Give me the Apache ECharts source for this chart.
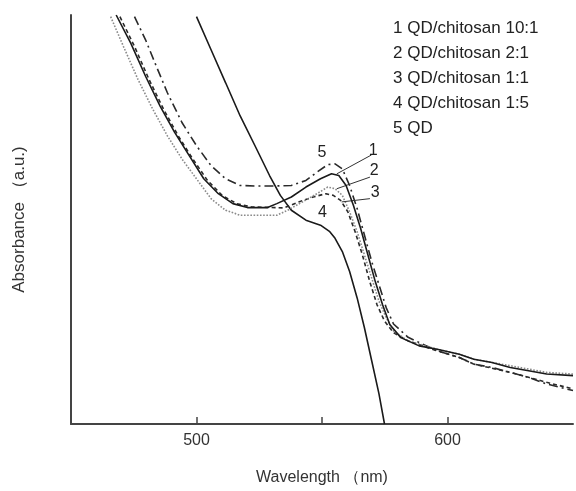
<!DOCTYPE html>
<html><head><meta charset="utf-8">
<script src="https://cdn.jsdelivr.net/npm/echarts@6/dist/echarts.min.js"></script>
<style>html,body{margin:0;padding:0;background:#fff}#c{width:576px;height:491px}</style>
</head><body><div id="c"></div>
<script>
// Wavelength (nm) / absorbance (a.u., arbitrary) pairs
const seriesNames = ['1 QD/chitosan 10:1','2 QD/chitosan 2:1','3 QD/chitosan 1:1','4 QD/chitosan 1:5','5 QD'];
const curve1 = [[468.0,412],[473.8,383.7],[479.7,350.3],[485.5,320.3],[491.3,293.7],[497.1,270.3],[502.9,247],[508.7,232],[514.5,222],[520.3,218],[528.3,218],[532.0,222],[537.8,228.7],[543.6,238.7],[549.4,247],[553.8,252],[556.7,250.3],[559.6,240.3],[562.5,220.3],[565.4,197],[568.3,170.3],[571.2,143.7],[574.1,120.3],[577.0,100.3],[581.4,87],[588.7,78.7],[595.9,75.3],[604.7,70.3],[610.5,65.3],[617.7,62],[625.0,57],[632.3,53.7],[639.5,50.3],[650,48.7]];
const curve2 = [[465.8,410.3],[470.9,380.3],[476.7,347],[482.6,317],[488.4,290.3],[494.2,267],[500,247],[505.8,227],[511.6,215.3],[517.4,210.3],[532.0,210.3],[536.3,215.3],[542.2,223.7],[548.0,232],[552.3,238.7],[555.2,237],[558.1,230.3],[561.0,213.7],[564.0,193.7],[566.9,170.3],[569.8,147],[572.7,123.7],[575.6,107],[578.5,93.7],[584.3,83.7],[595.9,75.3],[604.7,70.3],[610.5,65.3],[625,58.7],[632.3,55.3],[639.5,52],[650,50.3]];
const curve3 = [[469.5,410.3],[475.3,380.3],[481.1,347],[486.9,317],[492.7,290.3],[498.5,267],[504.4,245.3],[510.2,230.3],[516.0,222],[521.8,218.7],[534.9,217.7],[540.7,223.7],[546.5,228.7],[551.6,232],[554.5,230.3],[557.4,225.3],[560.3,213.7],[563.2,193.7],[566.1,170.3],[569.0,143.7],[571.9,120.3],[574.9,103.7],[578.5,92],[584.3,83.7],[595.9,73.7],[604.7,67],[610.5,60.3],[625,52],[632.3,47],[639.5,42],[650,35.3]];
const curve4 = [[500,410.3],[505.8,377],[511.6,343.7],[517.4,310.3],[523.3,280.3],[529.1,250.3],[533.4,230.3],[537.8,215.3],[543.6,205.3],[549.4,200.3],[553.1,193.7],[555.2,187],[558.1,173.7],[561.0,153.7],[564.0,127],[566.9,97],[569.8,63.7],[572.7,30.3],[574.9,0]];
const curve5 = [[475.3,410.3],[479.7,387],[484.0,360.3],[488.4,333.7],[494.2,303.7],[500,280.3],[505.8,260.3],[511.6,247],[517.4,240.3],[523.3,239.7],[530.5,239.7],[537.8,240.3],[543.6,245.3],[548.0,253.7],[552.3,261.3],[555.2,262],[558.1,257],[561.0,240.3],[564.0,217],[566.9,190.3],[569.8,163.7],[572.7,140.3],[575.6,117],[578.5,100.7],[584.3,87.3],[595.9,73.7],[604.7,67],[610.5,60.3],[617.7,57],[625,52],[632.3,47],[639.5,40.3],[650,33.7]];
const xTickLabels = [500, 600];
const xTicks = [500, 550, 600];
// curve number labels [x, y] and leader lines [[x1,y1],[x2,y2]]
const numLabels = {1:[570.4,275], 2:[570.8,255], 3:[571.2,233], 4:[550.2,213], 5:[550,273]};
const leaders = {1:[[555.9,252],[569.7,271]], 2:[[555.9,237],[569.1,248.7]], 3:[[557.8,223.7],[569.1,227]]};

const curves = [curve1, curve2, curve3, curve4, curve5];
const styles = [
  {color:'#1a1a1a', type:'solid', width:1.6},
  {color:'#8a8a8a', type:'dotted', width:1.6},
  {color:'#2a2a2a', type:[4,3], width:1.6},
  {color:'#1a1a1a', type:'solid', width:1.6},
  {color:'#2a2a2a', type:[9,4,2,4], width:1.6}
];
const series = curves.map((d, i) => {
  const n = i + 1;
  const s = {
    name: seriesNames[i], type: 'line', data: d, showSymbol: false, symbol: 'none',
    lineStyle: styles[i], itemStyle: {color: styles[i].color}, animation: false, z: 5 - i,
    markPoint: {
      symbol: 'circle', symbolSize: 0, animation: false,
      label: {show: true, position: 'inside', formatter: String(n), color: '#222', fontSize: 16, fontFamily: 'Liberation Sans'},
      data: [{coord: numLabels[n]}]
    }
  };
  if (leaders[n]) {
    s.markLine = {
      symbol: 'none', silent: true, animation: false, label: {show: false},
      lineStyle: {color: '#333', type: 'solid', width: 1},
      data: [[{coord: leaders[n][0]}, {coord: leaders[n][1]}]]
    };
  }
  return s;
});

const chart = echarts.init(document.getElementById('c'));
chart.setOption({
  animation: false,
  backgroundColor: '#fff',
  textStyle: {fontFamily: 'Liberation Sans'},
  grid: {left: 71, right: 0, top: 15, bottom: 64, containLabel: false},
  legend: {
    orient: 'vertical', left: 383, top: 15, icon: 'none', itemWidth: 0, itemHeight: 0, itemGap: 8,
    textStyle: {fontSize: 17, color: '#222', fontFamily: 'Liberation Sans'},
    data: seriesNames
  },
  xAxis: {
    type: 'value', min: 450, max: 650, interval: 50,
    name: 'Wavelength （nm)', nameLocation: 'middle', nameGap: 46,
    nameTextStyle: {fontSize: 16, color: '#333'},
    axisLine: {lineStyle: {color: '#444', width: 2}},
    axisTick: {inside: true, length: 7, customValues: xTicks, lineStyle: {color: '#444', width: 1.5}},
    axisLabel: {fontSize: 16, color: '#333', margin: 9, formatter: v => xTickLabels.includes(v) ? String(v) : ''},
    splitLine: {show: false}
  },
  yAxis: {
    type: 'value', min: 0, max: 412,
    name: 'Absorbance （a.u.)', nameLocation: 'middle', nameGap: 43, nameRotate: 90,
    nameTextStyle: {fontSize: 17, color: '#333'},
    axisLine: {show: true, lineStyle: {color: '#444', width: 2}},
    axisTick: {show: false}, axisLabel: {show: false}, splitLine: {show: false}
  },
  series: series
});
</script></body></html>
